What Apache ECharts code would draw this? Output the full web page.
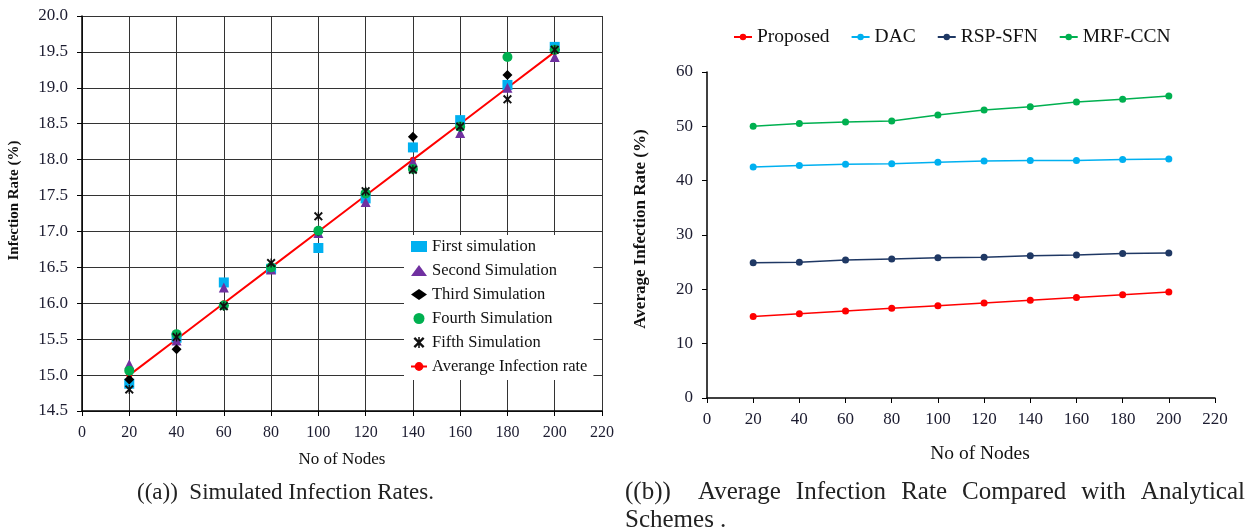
<!DOCTYPE html>
<html><head><meta charset="utf-8">
<script src="https://cdn.jsdelivr.net/npm/echarts@6/dist/echarts.min.js"></script>
<style>html,body{margin:0;padding:0;background:#fff}#c{width:1254px;height:530px}</style>
</head><body><div id="c"></div>
<script>
// Left chart data
const nodes = [20, 40, 60, 80, 100, 120, 140, 160, 180, 200];
const firstSim  = [14.88, 15.52, 16.29, 16.48, 16.77, 17.46, 18.17, 18.55, 19.04, 19.57];
const secondSim = [15.15, 15.48, 16.22, 16.47, 16.98, 17.41, 17.97, 18.37, 19.00, 19.43];
const thirdSim  = [14.94, 15.36, 15.97, 16.52, 17.00, 17.55, 18.32, 18.45, 19.18, 19.53];
const fourthSim = [15.06, 15.57, 15.97, 16.50, 17.01, 17.53, 17.87, 18.46, 19.43, 19.53];
const fifthSim  = [14.80, 15.53, 15.96, 16.56, 17.21, 17.56, 17.86, 18.46, 18.84, 19.53];
const avgRate   = [15.0, 15.5, 16.0, 16.5, 17.0, 17.5, 18.0, 18.5, 19.0, 19.5];
// Right chart data
const proposed = [15.0, 15.5, 16.0, 16.5, 17.0, 17.5, 18.0, 18.5, 19.0, 19.5];
const dac      = [42.5, 42.8, 43.0, 43.1, 43.4, 43.6, 43.7, 43.7, 43.9, 44.0];
const rspSfn   = [24.9, 25.0, 25.4, 25.6, 25.8, 25.9, 26.2, 26.3, 26.6, 26.7];
const mrfCcn   = [50.0, 50.5, 50.8, 51.0, 52.1, 53.0, 53.6, 54.5, 55.0, 55.6];

const captionA = '((a))  Simulated Infection Rates.';
const captionBWords = ['((b))', 'Average', 'Infection', 'Rate', 'Compared', 'with', 'Analytical'];
const captionB2 = 'Schemes .';

const pair = arr => nodes.map((n, i) => [n, arr[i]]);
const serif = 'Liberation Serif';
const capFontA = 23, capFontB = 25;
const xMark = 'path://M0,1.5 L1.5,0 L5,3.5 L8.5,0 L10,1.5 L6.5,5 L10,8.5 L8.5,10 L5,6.5 L1.5,10 L0,8.5 L3.5,5 Z M4.3,0 L5.7,0 L5.7,10 L4.3,10 Z';

// justified caption (b): measure words and spread over the line width
const fontB = capFontB + 'px "' + serif + '"';
const mctx = document.createElement('canvas').getContext('2d');
mctx.font = fontB;
const lineLeft = 625, lineRight = 1245;
const widths = captionBWords.map(w => mctx.measureText(w).width);
const sumW = widths.reduce((a, b) => a + b, 0);
const weights = captionBWords.slice(1).map((w, i) => i === 0 ? 1.8 : 1);
const wsum = weights.reduce((a, b) => a + b, 0);
const spare = Math.max(0, (lineRight - lineLeft) - sumW);
const captionGraphics = [];
let cx = lineLeft;
captionBWords.forEach((w, i) => {
  captionGraphics.push({type: 'text', left: cx, top: 480, style: {text: w, font: fontB, fill: '#222'}});
  cx += widths[i] + (i < weights.length ? spare * weights[i] / wsum : 0);
});
captionGraphics.push({type: 'text', left: lineLeft, top: 508, style: {text: captionB2, font: fontB, fill: '#222'}});
captionGraphics.push({type: 'text', left: 137, top: 481,
  style: {text: captionA, font: capFontA + 'px "' + serif + '"', fill: '#222'}});

const chart = echarts.init(document.getElementById('c'));
chart.setOption({
  animation: false,
  backgroundColor: '#fff',
  graphic: captionGraphics,
  legend: [
    {orient: 'vertical', left: 404, top: 235, backgroundColor: '#fff', padding: [3, 6, 5, 6],
     itemGap: 7, itemWidth: 16, itemHeight: 11,
     textStyle: {fontFamily: serif, fontSize: 16.5, color: '#111'},
     data: ['First simulation', 'Second Simulation', 'Third Simulation', 'Fourth Simulation', 'Fifth Simulation', 'Averange Infection rate']},
    {orient: 'horizontal', left: 728, top: 22, itemGap: 21, itemWidth: 18, itemHeight: 8,
     textStyle: {fontFamily: serif, fontSize: 19.5, color: '#111'},
     data: ['Proposed', 'DAC', 'RSP-SFN', 'MRF-CCN']}
  ],
  grid: [
    {left: 82, top: 16, width: 520, height: 395},
    {left: 707, top: 72, width: 508, height: 326}
  ],
  xAxis: [
    {gridIndex: 0, type: 'value', min: 0, max: 220, interval: 20,
      name: 'No of Nodes', nameLocation: 'middle', nameGap: 40,
      nameTextStyle: {fontFamily: serif, fontSize: 17, color: '#111'},
      axisLine: {show: true, lineStyle: {color: '#000', width: 1.5}},
      axisTick: {show: true, length: 5, lineStyle: {color: '#000'}},
      axisLabel: {color: '#1c1c30', fontFamily: serif, fontSize: 16, margin: 14},
      splitLine: {show: true, lineStyle: {color: '#333', width: 1}}},
    {gridIndex: 1, type: 'value', min: 0, max: 220, interval: 20,
      name: 'No of Nodes', nameLocation: 'middle', nameGap: 46,
      nameTextStyle: {fontFamily: serif, fontSize: 19.5, color: '#111', padding: [0, 0, 0, 38]},
      axisLine: {show: true, lineStyle: {color: '#000', width: 1.5}},
      axisTick: {show: true, length: 5, lineStyle: {color: '#000'}},
      axisLabel: {color: '#1c1c30', fontFamily: serif, fontSize: 17, margin: 13},
      splitLine: {show: false}}
  ],
  yAxis: [
    {gridIndex: 0, type: 'value', min: 14.5, max: 20, interval: 0.5,
      axisLine: {show: true, lineStyle: {color: '#000', width: 1.5}},
      axisTick: {show: true, length: 5, lineStyle: {color: '#000'}},
      axisLabel: {color: '#1c1c30', fontFamily: serif, fontSize: 17, margin: 14, formatter: v => v.toFixed(1)},
      splitLine: {show: true, lineStyle: {color: '#333', width: 1}},
      name: 'Infection Rate (%)', nameLocation: 'middle', nameGap: 60,
      nameTextStyle: {fontFamily: serif, fontSize: 15, fontWeight: 'bold', color: '#111', padding: [0, 0, 0, 26]}},
    {gridIndex: 1, type: 'value', min: 0, max: 60, interval: 10,
      name: 'Average Infection Rate (%)', nameLocation: 'middle', nameGap: 58,
      nameTextStyle: {fontFamily: serif, fontSize: 17, fontWeight: 'bold', color: '#111', padding: [0, 0, 0, 12]},
      axisLine: {show: true, lineStyle: {color: '#000', width: 1.5}},
      axisTick: {show: true, length: 5, lineStyle: {color: '#000'}},
      axisLabel: {color: '#1c1c30', fontFamily: serif, fontSize: 17, margin: 14},
      splitLine: {show: false}}
  ],
  series: [
    {name: 'Averange Infection rate', type: 'line', xAxisIndex: 0, yAxisIndex: 0, data: pair(avgRate),
     symbol: 'circle', symbolSize: 6, lineStyle: {color: '#ff0000', width: 2}, itemStyle: {color: '#ff0000'}, z: 2},
    {name: 'First simulation', type: 'scatter', xAxisIndex: 0, yAxisIndex: 0, data: pair(firstSim),
     symbol: 'rect', symbolSize: 10, itemStyle: {color: '#00b0f0', opacity: 1}, z: 3},
    {name: 'Second Simulation', type: 'scatter', xAxisIndex: 0, yAxisIndex: 0, data: pair(secondSim),
     symbol: 'triangle', symbolSize: 10, itemStyle: {color: '#7030a0', opacity: 1}, z: 3},
    {name: 'Third Simulation', type: 'scatter', xAxisIndex: 0, yAxisIndex: 0, data: pair(thirdSim),
     symbol: 'diamond', symbolSize: 10, itemStyle: {color: '#000', opacity: 1}, z: 3},
    {name: 'Fourth Simulation', type: 'scatter', xAxisIndex: 0, yAxisIndex: 0, data: pair(fourthSim),
     symbol: 'circle', symbolSize: 10, itemStyle: {color: '#00b050', opacity: 1}, z: 3},
    {name: 'Fifth Simulation', type: 'scatter', xAxisIndex: 0, yAxisIndex: 0, data: pair(fifthSim),
     symbol: xMark, symbolSize: 9, itemStyle: {color: '#111', opacity: 1}, z: 4},
    {name: 'Proposed', type: 'line', xAxisIndex: 1, yAxisIndex: 1, data: pair(proposed),
     symbol: 'circle', symbolSize: 7, lineStyle: {color: '#ff0000', width: 1.5}, itemStyle: {color: '#ff0000'}},
    {name: 'DAC', type: 'line', xAxisIndex: 1, yAxisIndex: 1, data: pair(dac),
     symbol: 'circle', symbolSize: 7, lineStyle: {color: '#00b0f0', width: 1.5}, itemStyle: {color: '#00b0f0'}},
    {name: 'RSP-SFN', type: 'line', xAxisIndex: 1, yAxisIndex: 1, data: pair(rspSfn),
     symbol: 'circle', symbolSize: 7, lineStyle: {color: '#1f3864', width: 1.5}, itemStyle: {color: '#1f3864'}},
    {name: 'MRF-CCN', type: 'line', xAxisIndex: 1, yAxisIndex: 1, data: pair(mrfCcn),
     symbol: 'circle', symbolSize: 7, lineStyle: {color: '#00b050', width: 1.5}, itemStyle: {color: '#00b050'}}
  ]
});
</script></body></html>
